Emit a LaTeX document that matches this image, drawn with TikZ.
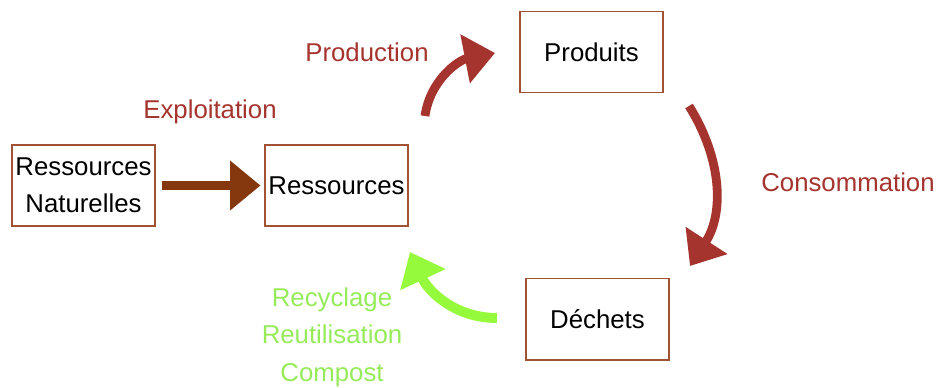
\documentclass[tikz,border=0pt]{standalone}
\usepackage{fontspec}
\setmainfont{Liberation Sans}
\usepackage{xcolor}
\usetikzlibrary{arrows.meta,positioning,calc}
\definecolor{boxline}{RGB}{160,82,50}
\definecolor{rust}{RGB}{133,56,14}
\definecolor{brick}{RGB}{166,52,46}
\definecolor{lime}{RGB}{150,250,60}
\definecolor{limetext}{RGB}{150,235,90}

\begin{document}
\begin{tikzpicture}[
  x=0.03cm, y=0.03cm,
  font=\fontsize{22}{32}\selectfont,
  stage/.style={draw=boxline, line width=1.7pt, align=center, inner sep=2pt, minimum width=4.29cm, minimum height=2.43cm},
  lbl/.style={text=brick, align=center},
  flow/.style={-{Triangle[length=26pt, width=41pt]}, line width=7.5pt},
]
\useasboundingbox (0,0) rectangle (938,-388);
\node[stage] (natural) at (83.5,-185.5) {Ressources\\Naturelles};
\node[stage] (res) at (336.5,-185.5) {Ressources};
\node[stage] (prod) at (591.5,-52) {Produits};
\node[stage] (waste) at (597.5,-319) {Déchets};
% free ends of the cycle arrows
\coordinate (prodA) at (425,-116);
\coordinate (prodB) at (495,-53);
\coordinate (consA) at (689,-106);
\coordinate (consB) at (690,-266);
\coordinate (recA) at (497,-318);
\coordinate (recB) at (410,-252);
\draw[flow, rust, line width=8.5pt, shorten <=5pt, shorten >=3pt] (natural.east) -- (res.west);
\draw[flow, brick] (prodA) to[out=82, in=191] (prodB);
\draw[flow, brick] (consA) to[out=-58, in=57] (consB);
\draw[flow, lime, line width=8.5pt] (recA) to[out=180, in=-65] (recB);
% labels
\node[lbl] (exploit) at (210,-112) {Exploitation};
\node[lbl] (production) at (367,-52) {Production};
\node[lbl] (conso) at (848,-182) {Consommation};
\node[lbl, text=limetext] (recycle) at (332,-337) {Recyclage\\Reutilisation\\Compost};
\end{tikzpicture}
\end{document}
